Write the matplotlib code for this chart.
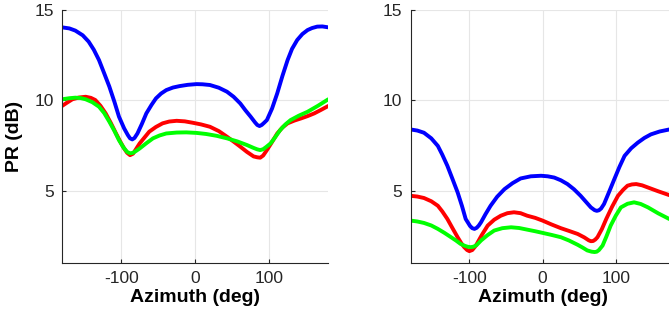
import matplotlib
matplotlib.use('Agg')
import matplotlib.pyplot as plt

# Left panel readings (azimuth deg, PR dB)
left_blue_az = [-180, -170, -162, -152, -144, -137, -130, -123, -116, -109, -103, -96, -91, -88, -85, -82, -78, -72, -66, -59, -53, -46, -39, -30, -21, -10, 2, 10, 20, 32, 43, 52, 61, 68, 75, 81, 84, 87, 90, 93, 97, 104, 111, 118, 125, 131, 138, 145, 152, 158, 165, 172, 180]
left_blue_pr = [14.04, 13.98, 13.86, 13.6, 13.25, 12.8, 12.23, 11.5, 10.76, 9.9, 9.1, 8.45, 8.08, 7.9, 7.84, 7.92, 8.17, 8.7, 9.28, 9.75, 10.11, 10.38, 10.57, 10.71, 10.79, 10.86, 10.9, 10.89, 10.85, 10.7, 10.48, 10.2, 9.83, 9.45, 9.1, 8.78, 8.64, 8.58, 8.64, 8.75, 8.91, 9.55, 10.39, 11.35, 12.23, 12.85, 13.34, 13.67, 13.89, 14.0, 14.08, 14.09, 14.04]

left_red_az = [-180, -173, -166, -157, -148, -141, -135, -128, -121, -114, -107, -101, -96, -92, -88, -84, -80, -75, -68, -62, -53, -44, -35, -25, -14, -3, 8, 20, 32, 43, 52, 61, 70, 79, 84, 88, 92, 97, 104, 111, 118, 125, 134, 143, 152, 161, 170, 180]
left_red_pr = [9.69, 9.88, 10.06, 10.16, 10.2, 10.14, 10.02, 9.7, 9.28, 8.75, 8.17, 7.7, 7.34, 7.1, 6.97, 7.05, 7.3, 7.62, 7.97, 8.27, 8.53, 8.73, 8.83, 8.87, 8.84, 8.76, 8.67, 8.54, 8.3, 7.99, 7.72, 7.44, 7.15, 6.9, 6.85, 6.83, 6.95, 7.25, 7.7, 8.17, 8.5, 8.73, 8.88, 9.0, 9.13, 9.28, 9.47, 9.69]

left_green_az = [-180, -170, -162, -155, -148, -139, -130, -123, -116, -109, -103, -97, -92, -88, -84, -80, -75, -66, -57, -48, -39, -25, -12, 2, 15, 29, 43, 57, 70, 79, 84, 88, 92, 96, 102, 108, 115, 122, 129, 140, 152, 166, 180]
left_green_pr = [10.06, 10.12, 10.15, 10.13, 10.06, 9.9, 9.65, 9.3, 8.82, 8.3, 7.8, 7.4, 7.15, 7.07, 7.1, 7.2, 7.34, 7.63, 7.9, 8.06, 8.17, 8.22, 8.23, 8.2, 8.14, 8.04, 7.9, 7.73, 7.53, 7.37, 7.29, 7.25, 7.3, 7.42, 7.62, 7.95, 8.36, 8.67, 8.91, 9.15, 9.37, 9.7, 10.06]

# Right panel readings
right_blue_az = [-180, -171, -162, -152, -143, -137, -130, -123, -116, -110, -105, -99, -96, -93, -90, -87, -84, -78, -71, -62, -52, -41, -30, -16, -2, 7, 16, 25, 34, 43, 52, 59, 66, 71, 74, 77, 80, 84, 91, 98, 105, 112, 121, 130, 139, 148, 160, 173, 180]
right_blue_pr = [8.39, 8.33, 8.21, 7.9, 7.48, 7.0, 6.38, 5.65, 4.91, 4.15, 3.44, 3.05, 2.93, 2.89, 2.95, 3.08, 3.26, 3.7, 4.17, 4.67, 5.09, 5.42, 5.68, 5.8, 5.83, 5.8, 5.73, 5.58, 5.37, 5.08, 4.72, 4.4, 4.08, 3.93, 3.89, 3.92, 4.02, 4.27, 4.95, 5.64, 6.32, 6.93, 7.35, 7.66, 7.92, 8.12, 8.28, 8.39, 8.4]

right_red_az = [-180, -171, -162, -152, -143, -137, -130, -123, -116, -111, -107, -103, -100, -96, -91, -83, -75, -66, -57, -48, -39, -30, -21, -10, 0, 12, 25, 36, 48, 57, 63, 66, 69, 72, 75, 81, 87, 95, 103, 110, 116, 122, 128, 136, 144, 158, 173, 180]
right_red_pr = [4.72, 4.68, 4.6, 4.42, 4.17, 3.86, 3.44, 2.93, 2.43, 2.1, 1.88, 1.72, 1.66, 1.72, 1.97, 2.55, 3.07, 3.4, 3.62, 3.76, 3.81, 3.76, 3.62, 3.5, 3.35, 3.14, 2.93, 2.78, 2.61, 2.42, 2.26, 2.21, 2.22, 2.3, 2.43, 2.88, 3.44, 4.12, 4.72, 5.05, 5.28, 5.35, 5.37, 5.3, 5.18, 4.97, 4.76, 4.72]

right_green_az = [-180, -171, -162, -152, -143, -134, -125, -118, -112, -106, -102, -98, -94, -90, -84, -75, -66, -55, -43, -32, -21, -10, 0, 12, 25, 36, 48, 55, 61, 67, 71, 74, 77, 82, 87, 93, 100, 107, 116, 125, 134, 144, 158, 173, 180]
right_green_pr = [3.35, 3.3, 3.22, 3.08, 2.89, 2.67, 2.43, 2.24, 2.06, 1.95, 1.9, 1.88, 1.91, 2.0, 2.25, 2.55, 2.8, 2.93, 2.98, 2.94, 2.85, 2.76, 2.67, 2.56, 2.43, 2.25, 2.01, 1.85, 1.7, 1.63, 1.61, 1.63, 1.72, 1.97, 2.45, 3.07, 3.62, 4.08, 4.28, 4.36, 4.27, 4.08, 3.75, 3.44, 3.35]

x_ticks = [-100, 0, 100]
y_ticks = [5, 10, 15]

plt.rcParams['font.family'] = ['Liberation Sans', 'DejaVu Sans']
plt.rcParams['axes.unicode_minus'] = False

fig = plt.figure(figsize=(6.69, 3.33), dpi=100)
ax_l = fig.add_axes([0.0927, 0.210, 0.398, 0.760])
ax_r = fig.add_axes([0.614, 0.210, 0.394, 0.760])

panels = [
    (ax_l, [(left_blue_az, left_blue_pr, '#0000ff'),
            (left_red_az, left_red_pr, '#ff0000'),
            (left_green_az, left_green_pr, '#00ff00')]),
    (ax_r, [(right_blue_az, right_blue_pr, '#0000ff'),
            (right_red_az, right_red_pr, '#ff0000'),
            (right_green_az, right_green_pr, '#00ff00')]),
]

for ax, series in panels:
    for az, pr, col in series:
        ax.plot(az, pr, color=col, linewidth=2.8, solid_joinstyle='round', solid_capstyle='round')
    ax.set_xlim(-180, 180)
    ax.set_ylim(1, 15)
    ax.set_xticks(x_ticks)
    ax.set_yticks(y_ticks)
    ax.grid(True, color='#e6e6e6', linewidth=0.8)
    ax.set_axisbelow(True)
    ax.spines['top'].set_visible(False)
    ax.spines['right'].set_visible(False)
    for s in ('left', 'bottom'):
        ax.spines[s].set_color('#262626')
        ax.spines[s].set_linewidth(0.8)
    ax.tick_params(direction='in', length=3, labelsize=12.5, colors='#262626', pad=6)
    ax.set_xlabel('Azimuth (deg)', fontsize=14, fontweight='bold', labelpad=2)

ax_l.set_ylabel('PR (dB)', fontsize=14, fontweight='bold', labelpad=8)

fig.savefig('out.png', dpi=100)
